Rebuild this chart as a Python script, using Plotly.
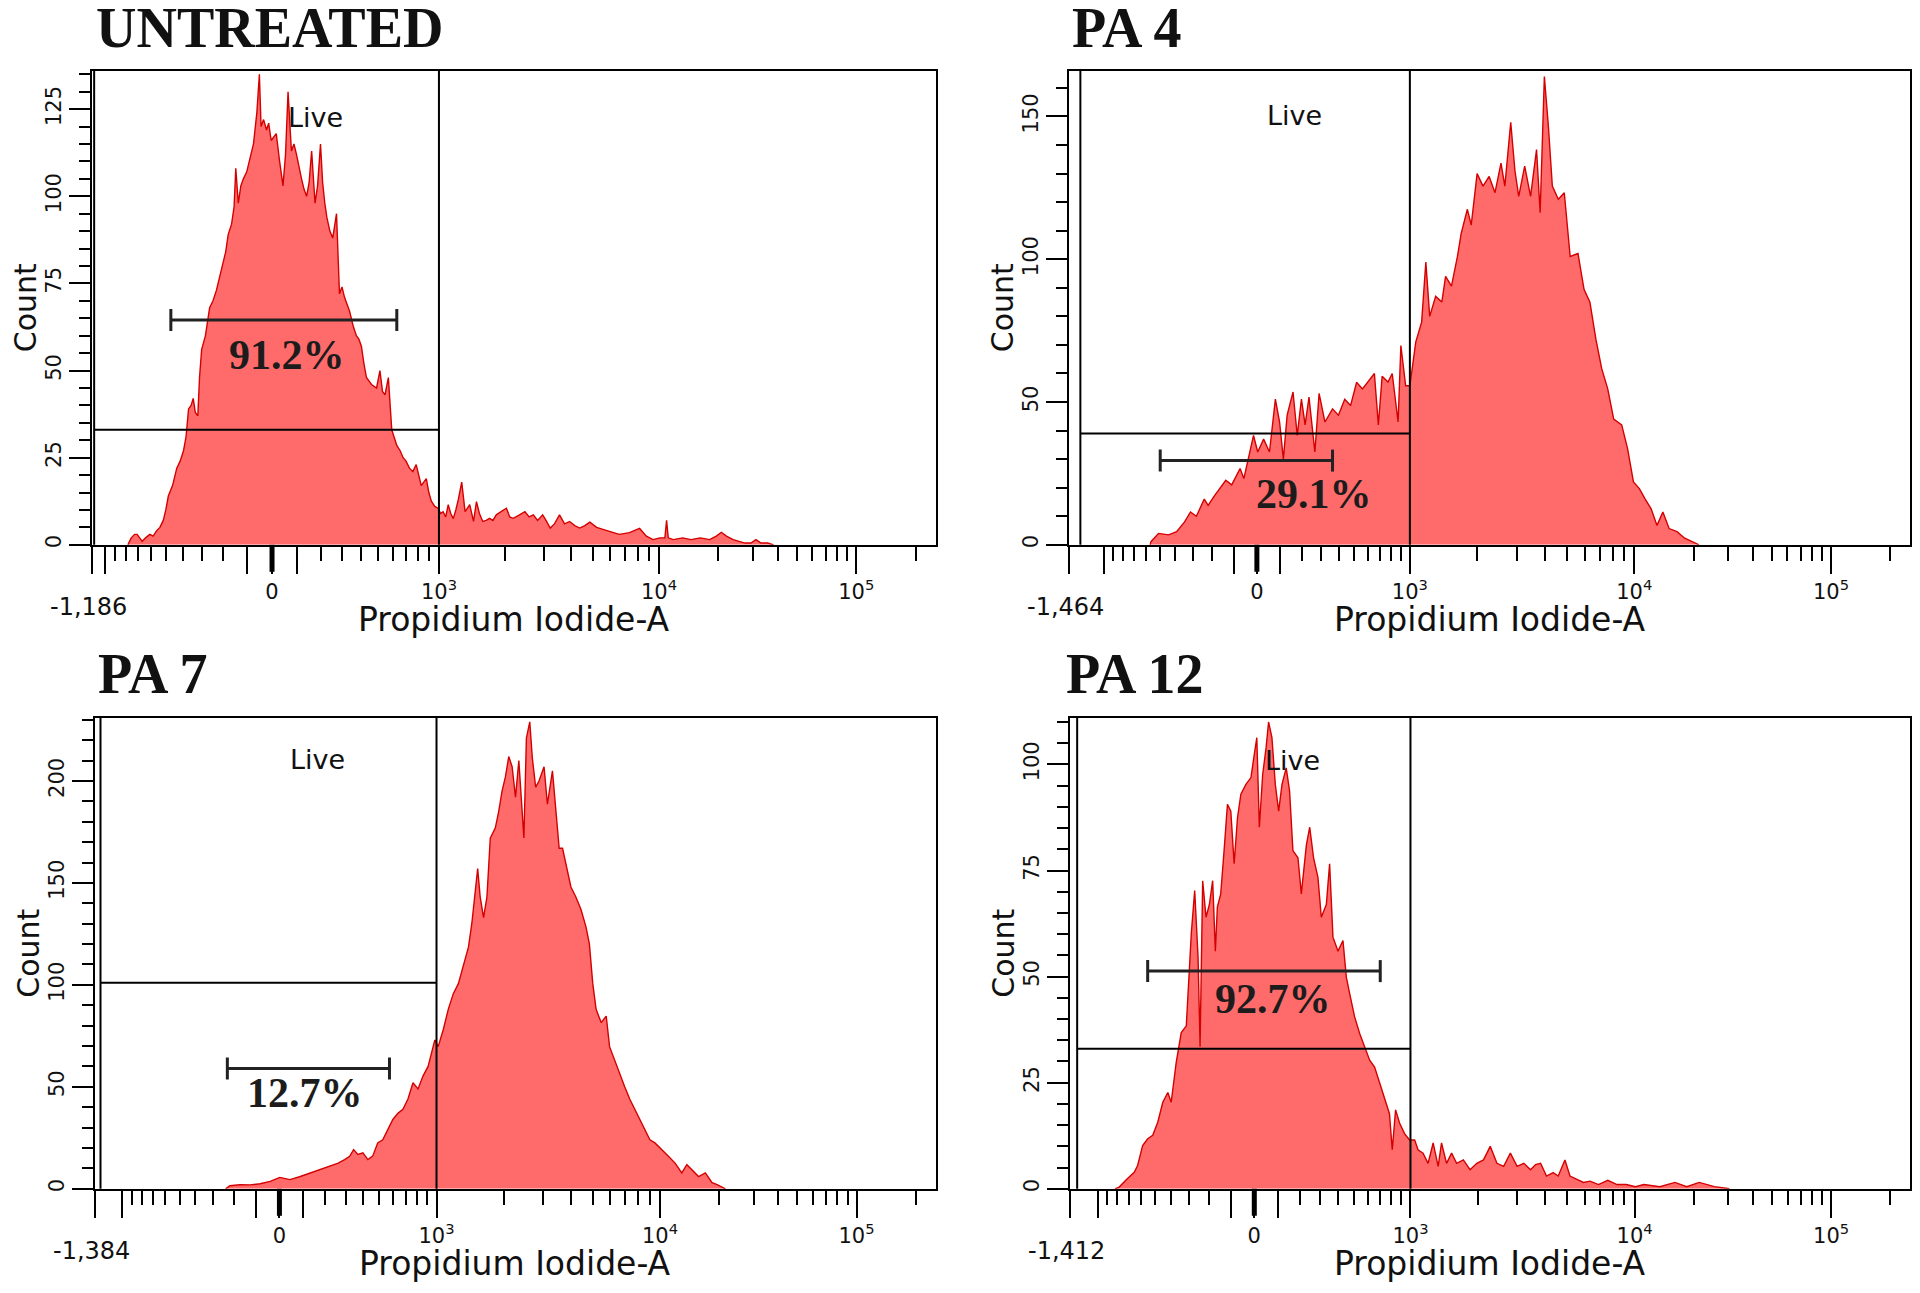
import math
import plotly.graph_objects as go

# page is 1920x1293; the html body has an 8px margin, so the figure is drawn 8px in
PAGE_W, PAGE_H, OFF = 1920, 1293, 8
W, H = PAGE_W - 2 * OFF, PAGE_H - 2 * OFF

# ---------------- data ----------------
titles = ["UNTREATED", "PA 4", "PA 7", "PA 12"]
left_labels = ["-1,186", "-1,464", "-1,384", "-1,412"]
pct_labels = ["91.2%", "29.1%", "12.7%", "92.7%"]
gate_label = "Live"
x_title = "Propidium Iodide-A"
y_title = "Count"
decade_labels = ["0", "10<sup>3</sup>", "10<sup>4</sup>", "10<sup>5</sup>"]

# histograms: (display channel 0-1000 along the axis, count)
p1_hist = [
    (42, 0), (46, 2), (50, 3), (53, 3), (56, 2), (59, 1), (63, 2), (68, 3), (72, 2.5), (76, 4),
    (80, 5), (84, 7), (87, 10), (90, 14), (95, 17), (100, 22), (104, 24), (108, 27), (111, 31), (114, 39),
    (117, 40), (119.5, 42), (122, 38), (125, 37), (127, 48), (129.5, 56), (134, 60), (139, 68), (143, 70), (147, 73),
    (151, 77), (155, 81), (158, 84), (161, 89), (165, 92), (168, 97), (170, 108), (173, 98), (176, 103), (179, 105),
    (183, 107), (187, 111), (191, 115), (195, 124), (198, 135), (200, 120), (203, 122), (206.5, 119), (209, 121), (212, 116),
    (215, 117), (218, 118), (222, 110), (226, 103), (229, 112), (232, 130), (236, 113), (239, 115), (242, 112), (245, 108),
    (248, 105), (251, 102), (254, 100), (257, 104), (260, 113), (264, 98), (267, 103), (270.5, 115), (273, 104), (275.6, 98),
    (278, 94), (281.6, 90), (285, 88), (289.5, 95), (293, 72), (296, 74), (299, 71), (302, 69), (305, 67), (309, 63),
    (313, 60), (316, 59), (319, 57), (322, 52), (325, 48), (331, 46), (337, 45), (341, 50), (344, 44), (347, 43),
    (351, 48), (355, 33), (358, 31), (361, 28.5), (365, 27), (368.5, 25), (372, 24), (376, 22), (380, 21), (384, 23),
    (387, 20), (390, 17), (393, 18), (396, 19), (399, 15), (402, 12.5), (406, 11), (410, 10.5), (413, 9), (416, 9.5),
    (419, 8), (422, 11.5), (425, 9), (428, 7.5), (431, 10), (434, 13), (438, 18), (442, 9.5), (447.5, 11.5), (452, 6.7),
    (455.5, 12.4), (459, 9), (463, 6.7), (467, 7), (471, 7.6), (475, 7), (479, 8.6), (485, 9.5), (491, 10.5), (495, 8),
    (499, 7.6), (506, 8.5), (513, 9.5), (518, 8), (523, 8.6), (528, 7), (534, 8.6), (538, 7), (543, 4.8), (548, 6),
    (554, 8.6), (560, 6), (566, 6.7), (572, 5.5), (578, 4.8), (584, 5.5), (590, 6.5), (598, 5), (610, 4), (618, 3.5),
    (625, 3), (637, 3.5), (649, 4.7), (657, 2.5), (665, 1.5), (673, 2), (679, 2), (681, 7), (683, 2), (689, 1.5),
    (700, 2), (710, 1.5), (721, 2), (732, 1.5), (740, 2.5), (746, 3.6), (752, 2.5), (760, 1.5), (767, 1), (774, 0.5),
    (781, 0.5), (787, 1.5), (793, 0.5), (801, 0.5), (808, 0),
]

p2_hist = [
    (96, 0), (97, 1.1), (106, 4), (118, 3.5), (127.5, 4.6), (137, 8), (144, 11.5), (151, 10), (160.4, 16), (165, 13.8),
    (172, 17), (179, 19.7), (186, 22.6), (193, 21), (203, 26.7), (207.5, 23.2), (212, 29), (219, 38.3), (224, 32.5), (231, 37),
    (238, 32.5), (245, 51), (250, 43), (254.5, 30), (259, 45.4), (266, 53.5), (271, 38.3), (276, 51), (280.4, 42), (285, 51.7),
    (292, 32.5), (297, 53), (304, 43), (313, 47.6), (320, 45.4), (327.5, 51), (334.5, 48.8), (341.6, 56.9), (348.6, 54.6), (355.7, 57.5),
    (362.8, 60), (367.5, 42), (372, 59), (379, 57), (384, 60), (391, 43), (394.3, 69.8), (400, 55.7), (405, 55.7), (412, 71),
    (419, 78), (424, 99), (428.6, 80), (435.7, 87), (443, 85), (447.5, 94), (454.5, 90.6), (461.6, 101), (466, 109), (473.4, 117.5),
    (478, 112), (485, 130), (492, 125.6), (499.3, 129), (506.3, 123.3), (513.4, 133.7), (518, 125.6), (525, 148), (530, 131), (534.5, 122),
    (541.6, 132.6), (548.6, 122), (555.7, 138.4), (560, 116.3), (565, 164), (569.8, 146.6), (574.5, 125.6), (581.6, 121), (588.7, 123.3), (595.7, 101),
    (605, 102), (612.2, 89.5), (619.2, 85), (626.3, 72), (633.3, 61.6), (640.4, 54.6), (647.5, 44), (657, 42), (664, 33.7), (671, 22),
    (678, 19.7), (685, 16), (692, 12.6), (699, 6.8), (706, 11.5), (713.4, 5.7), (722.8, 4.6), (732, 2.3), (741.6, 1.1), (749, 0),
]

p3_hist = [
    (155, 0), (160, 1.5), (172, 2), (184, 1.9), (196, 2.5), (208, 3.6), (219.5, 5.6), (231.5, 4.5), (243, 5.9), (255, 7.6),
    (267, 9.3), (279, 11), (289, 12.6), (296.6, 14.3), (302.6, 15.9), (307.3, 19.2), (312.4, 16.8), (318.4, 17.6), (324.3, 14.3), (330, 16),
    (336, 22.5), (342, 24), (348, 29), (354, 34), (360, 37), (366, 39), (372, 44), (378, 52), (384, 49), (390, 55.4),
    (396, 60), (400, 66.4), (404, 73), (408, 69.7), (414, 78), (420, 88), (426, 95.7), (432, 100.6), (438, 110), (444, 118.5),
    (448, 130), (452, 146), (455, 157), (458, 143), (462, 133), (466, 143), (470, 172), (476, 177), (480, 185), (484, 195),
    (488, 202), (492, 212), (496, 207), (500, 192), (504, 210), (510, 172), (513, 221), (517, 229), (520, 211.5), (524, 197),
    (528, 200), (534, 207), (538, 188.6), (544, 205), (548, 187), (552, 167), (556, 167), (560, 159), (566, 148), (572, 143),
    (578, 137), (584, 128.3), (588, 120), (592, 100.6), (596, 88), (602, 81.5), (608, 84.7), (612, 69.7), (618, 63), (624, 56.6),
    (630, 50), (636, 44), (642, 39), (648, 34), (654, 29), (660, 24), (666, 22.5), (674, 19), (682, 16), (690, 12.6),
    (698, 7.8), (704, 11.8), (710, 9.4), (718, 6), (726, 7.8), (734, 3), (740, 2), (745, 1), (750, 0),
]

p4_hist = [
    (53, 0), (58, 0.4), (68, 2.4), (76, 3.9), (80, 5.5), (86, 10.2), (92, 11.8), (98, 12.6), (104, 15.7), (110, 20.4),
    (116, 22.7), (120, 20.4), (126, 29.8), (132, 36.8), (138, 38.4), (144, 60.3), (148, 70.3), (152, 54.6), (154.4, 33.5), (157.5, 72.6),
    (161.5, 64), (165.5, 67), (169.4, 72.6), (172.6, 56), (175, 66.4), (179, 69.5), (183, 79.7), (187, 90.6), (191, 89), (195, 76.6),
    (199, 87.5), (203, 93), (209, 95.3), (215, 96.9), (219, 102.4), (222, 106.3), (225, 85.2), (229, 97.7), (233, 103.9), (236, 110),
    (240, 106.3), (244, 95.3), (248, 89), (252, 95.3), (257, 99.2), (261, 93.8), (265, 79.7), (271, 78), (275, 69.5), (281, 81),
    (285, 85.2), (289.6, 78), (294.8, 73.4), (298.8, 64), (304.8, 67), (308.7, 76.6), (312.7, 59.3), (318.7, 56), (324.6, 58.5), (328.6, 49.9),
    (332.6, 46), (338.5, 40.5), (344.5, 36.6), (350.4, 33.5), (356.4, 30.3), (362.3, 28.7), (368.3, 24.8), (374, 21.7), (380, 17.7), (383.3, 9.2),
    (387.3, 18.6), (392, 15.5), (398, 13), (404, 11.5), (410, 11.5), (414, 9.2), (420, 8.4), (426, 6), (432, 10.8), (438, 5.3),
    (442, 10.8), (448, 6), (454, 8.4), (460, 6), (468, 6.8), (476, 4.5), (484, 6), (492, 6.8), (500, 10), (508, 6),
    (516, 5.3), (524, 8.4), (532, 5.3), (540, 6), (548, 4.5), (554, 5.7), (560, 6), (567, 3), (575, 3.8), (581, 3),
    (589, 6.8), (595, 3), (603, 2.2), (611, 1.5), (619, 1.8), (629, 1), (640, 2), (651, 1), (662, 1), (673, 0.5),
    (683, 1), (702, 0.5), (720, 1.5), (734, 0.5), (749, 1.5), (767, 0.5), (785, 0),
]

hists = [p1_hist, p2_hist, p3_hist, p4_hist]

# gates / markers (values in display channel and count units)
y_max = [136, 166, 231, 111]
y_major = [25, 50, 50, 25]
y_minor = [5, 10, 10, 5]
gate_left = [2, 13, 6, 8]
gate_level = [33, 39, 101, 33]
bracket_from = [93, 108, 157, 92]
bracket_to = [361, 313, 350, 369]
bracket_level = [64.5, 29.5, 59, 51.3]
pct_pos = [(231, 53.5), (291, 16.7), (250, 45.5), (241, 44)]
live_pos = [(265, 122.5), (268, 150.5), (264, 210.5), (264, 101)]

# axis anchors (display channel of 0, 10^3) per panel
zero_ch = [213, 223, 219, 219]
e3_ch = [411, 405, 406, 405]
E4_CH, E5_CH, W_LIN = 672, 906, 400

# ---------------- layout geometry (page pixels) ----------------
panels_px = [  # left, right, top, bottom
    (92.5, 936, 71, 546.5),
    (1070, 1911, 71, 546.5),
    (95.5, 936, 720, 1192.5),
    (1071, 1911, 720, 1192.5),
]
title_px = [(94, 28), (1071, 28), (96, 676), (1065, 676)]

FILL = "#FF6B6B"
EDGE = "#D40000"


def fx(px):
    return (px - OFF) / W


def fy(py):
    return 1 - (py - OFF) / H


def chan(v, c0, c3):
    if v <= 1000:
        return c0 + (c3 - c0) * math.asinh(v / W_LIN) / math.asinh(1000 / W_LIN)
    if v <= 1e4:
        return c3 + (E4_CH - c3) * math.log10(v / 1000)
    return E4_CH + (E5_CH - E4_CH) * math.log10(v / 1e4)


fig = go.Figure()
annotations = []
shapes = []

for i in range(4):
    n = "" if i == 0 else str(i + 1)
    xa, ya = "x" + n, "y" + n
    L, R, T, B = panels_px[i]
    c0, c3 = zero_ch[i], e3_ch[i]
    hx = [p[0] for p in hists[i]]
    hy = [p[1] for p in hists[i]]

    fig.add_trace(go.Scatter(
        x=hx, y=hy, xaxis=xa, yaxis=ya, mode="lines",
        fill="tozeroy", fillcolor=FILL, line=dict(color=EDGE, width=1.4),
        showlegend=False, hoverinfo="skip"))

    major_vals = [-1000, -100, 0, 100, 1000, 1e4, 1e5]
    major_pos = [0] + [chan(v, c0, c3) for v in major_vals]
    major_txt = ["", "", "", decade_labels[0], "", decade_labels[1], decade_labels[2], decade_labels[3]]
    minor_vals = ([-k * 100 for k in range(2, 10)] + [k * 100 for k in range(2, 10)] +
                  [k * 1000 for k in range(2, 10)] + [k * 10000 for k in range(2, 10)] + [200000])
    minor_pos = [p for p in (chan(v, c0, c3) for v in minor_vals) if 0 < p < 1000]

    fig.update_layout(**{
        ("xaxis" + n): dict(
            domain=[fx(L), fx(R)], anchor=ya, range=[0, 1000],
            showline=True, mirror=True, linecolor="black", linewidth=2,
            showgrid=False, zeroline=False,
            tickmode="array", tickvals=major_pos, ticktext=major_txt,
            ticks="outside", ticklen=27, tickwidth=2, tickcolor="black",
            tickfont=dict(family="DejaVu Sans", size=21, color="#111"),
            minor=dict(tickmode="array", tickvals=minor_pos, ticks="outside",
                       ticklen=14, tickwidth=2, tickcolor="black", showgrid=False),
        ),
        ("yaxis" + n): dict(
            domain=[fy(B), fy(T)], anchor=xa, range=[0, y_max[i]],
            showline=True, mirror=True, linecolor="black", linewidth=2,
            showgrid=False, zeroline=False,
            tickmode="linear", tick0=0, dtick=y_major[i],
            ticks="outside", ticklen=21, tickwidth=2, tickcolor="black",
            tickangle=-90,
            tickfont=dict(family="DejaVu Sans", size=21, color="#111"),
            minor=dict(dtick=y_minor[i], ticks="outside", ticklen=11,
                       tickwidth=2, tickcolor="black", showgrid=False),
        ),
    })

    # thick tick at zero
    shapes.append(dict(type="line", xref=xa, yref=ya + " domain", ysizemode="pixel",
                       yanchor=0, x0=c0, x1=c0, y0=0, y1=-27,
                       line=dict(color="black", width=5)))
    # gate lines
    shapes.append(dict(type="line", xref=xa, yref=ya + " domain",
                       x0=gate_left[i], x1=gate_left[i], y0=0, y1=1,
                       line=dict(color="black", width=2)))
    shapes.append(dict(type="line", xref=xa, yref=ya + " domain",
                       x0=c3, x1=c3, y0=0, y1=1, line=dict(color="black", width=2)))
    shapes.append(dict(type="line", xref=xa, yref=ya,
                       x0=gate_left[i], x1=c3, y0=gate_level[i], y1=gate_level[i],
                       line=dict(color="black", width=2)))
    # bracket marker
    shapes.append(dict(type="line", xref=xa, yref=ya,
                       x0=bracket_from[i], x1=bracket_to[i],
                       y0=bracket_level[i], y1=bracket_level[i],
                       line=dict(color="#222", width=3)))
    for xe in (bracket_from[i], bracket_to[i]):
        shapes.append(dict(type="line", xref=xa, yref=ya, ysizemode="pixel",
                           yanchor=bracket_level[i], x0=xe, x1=xe, y0=-11, y1=11,
                           line=dict(color="#222", width=3)))

    # texts
    annotations.append(dict(text=gate_label, xref=xa, yref=ya, x=live_pos[i][0], y=live_pos[i][1],
                            showarrow=False, font=dict(family="DejaVu Sans", size=27, color="#111")))
    annotations.append(dict(text="<b>" + pct_labels[i] + "</b>", xref=xa, yref=ya,
                            x=pct_pos[i][0], y=pct_pos[i][1], yshift=3, showarrow=False,
                            font=dict(family="Liberation Serif", size=42, color="#1c1c1c")))
    annotations.append(dict(text="<b>" + titles[i] + "</b>", xref="paper", yref="paper",
                            x=fx(title_px[i][0]), y=fy(title_px[i][1]),
                            xanchor="left", yanchor="middle", showarrow=False,
                            font=dict(family="Liberation Serif", size=56, color="#111")))
    annotations.append(dict(text=left_labels[i], xref=xa + " domain", yref="paper",
                            x=0, y=fy(B + 62), xanchor="center", yanchor="middle", xshift=-4,
                            showarrow=False, font=dict(family="DejaVu Sans", size=24, color="#111")))
    annotations.append(dict(text=x_title, xref=xa + " domain", yref="paper",
                            x=0.5, y=fy(B + 75), xanchor="center", yanchor="middle",
                            showarrow=False, font=dict(family="DejaVu Sans", size=33, color="#111")))
    annotations.append(dict(text=y_title, xref="paper", yref=ya + " domain",
                            x=fx(L - 67), y=0.5, xanchor="center", yanchor="middle",
                            textangle=-90, showarrow=False,
                            font=dict(family="DejaVu Sans", size=30, color="#111")))

fig.update_layout(
    width=W, height=H, margin=dict(l=0, r=0, t=0, b=0),
    paper_bgcolor="white", plot_bgcolor="white",
    shapes=shapes, annotations=annotations, showlegend=False,
)

fig.write_html("out.html")
